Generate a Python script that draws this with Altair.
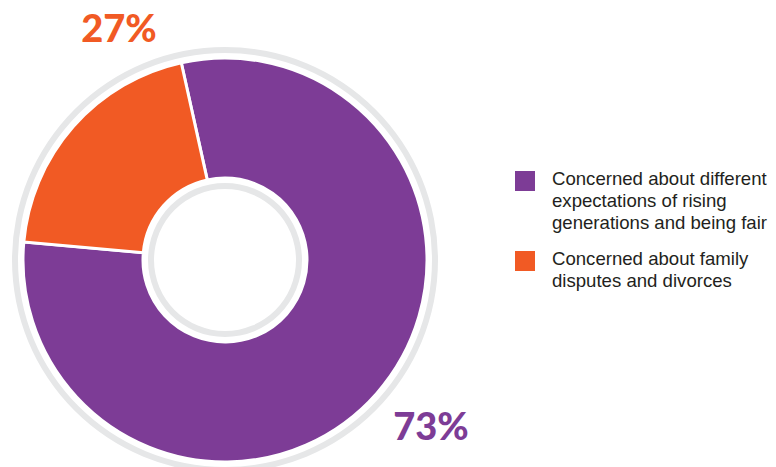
import math
import altair as alt
import pandas as pd

# Data
categories = [
    "Concerned about different|expectations of rising|generations and being fair",
    "Concerned about family|disputes and divorces",
]
percent_labels = ["73%", "27%"]
arc_share = [79.9, 20.1]          # angular share of each slice as drawn
slice_order = [0, 1]
colors = ["#7d3c96", "#f15a24"]

df = pd.DataFrame({
    "category": categories,
    "arc": arc_share,
    "label": percent_labels,
    "order": slice_order,
})

CX, CY = 225, 260
start = math.radians(347.5)

donut = alt.Chart(df).mark_arc(
    radius=202, radius2=82, stroke="white", strokeWidth=3
).encode(
    theta=alt.Theta("arc:Q", stack=True,
                    scale=alt.Scale(range=[start, start + 2 * math.pi])),
    color=alt.Color(
        "category:N",
        scale=alt.Scale(domain=categories, range=colors),
        legend=alt.Legend(
            title=None, orient="none", legendX=515, legendY=171,
            symbolType="square", symbolSize=400, symbolStrokeWidth=0,
            symbolOpacity=1,
            labelFontSize=18.6, labelFont="Liberation Sans", labelColor="#231f20",
            labelExpr="split(datum.label, '|')", labelBaseline="top",
            labelOffset=17, rowPadding=17, labelLimit=400,
        ),
    ),
    order=alt.Order("order:Q"),
    x=alt.value(CX), y=alt.value(CY),
)

ring_df = pd.DataFrame({"ring": ["outer", "inner"]})
outer_ring = alt.Chart(ring_df).transform_filter("datum.ring == 'outer'").mark_arc(
    radius=207, radius2=213, theta=0, theta2=2 * math.pi, color="#e6e7e8"
).encode(x=alt.value(CX), y=alt.value(CY))
inner_ring = alt.Chart(ring_df).transform_filter("datum.ring == 'inner'").mark_arc(
    radius=71, radius2=77, theta=0, theta2=2 * math.pi, color="#e6e7e8"
).encode(x=alt.value(CX), y=alt.value(CY))

lab27 = alt.Chart(df).transform_filter("datum.order == 1").mark_text(
    font="Lato", fontWeight=900, fontSize=38, color=colors[1],
    align="center", baseline="alphabetic"
).encode(text="label:N", x=alt.value(119), y=alt.value(42))

lab73 = alt.Chart(df).transform_filter("datum.order == 0").mark_text(
    font="Lato", fontWeight=900, fontSize=38, color=colors[0],
    align="center", baseline="alphabetic"
).encode(text="label:N", x=alt.value(431), y=alt.value(440))

chart = alt.layer(outer_ring, inner_ring, donut, lab27, lab73).properties(
    width=776, height=467, padding=0, autosize="none", background="white"
).configure(
    style={"guide-label": {"lineHeight": 22, "dy": -11}},
    view=alt.ViewConfig(stroke=None),
)

chart.save("out.html", embed_options={"renderer": "svg", "actions": False})
